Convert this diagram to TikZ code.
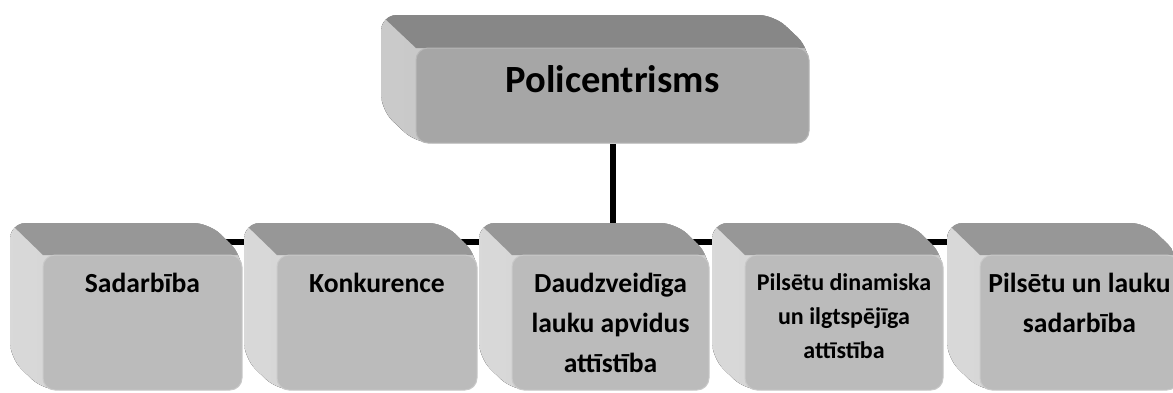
\documentclass[tikz,border=0pt]{standalone}
\usepackage{fontspec}
\setmainfont{Carlito}
\usetikzlibrary{backgrounds}
\definecolor{topF}{HTML}{A6A6A6}
\definecolor{topT}{HTML}{878787}
\definecolor{topS}{HTML}{BDBDBD}
\definecolor{botF}{HTML}{BBBBBB}
\definecolor{botT}{HTML}{979797}
\definecolor{botS}{HTML}{CFCFCF}
\tikzset{
  conn/.style={line width=6pt, black},
  face/.style={rectangle, fill=#1, draw=#1!80!white, line width=1pt, rounded corners=12pt, inner sep=0pt},
  lbl/.style={align=center, inner sep=0pt, anchor=north, font=\fontsize{27.6}{40}\selectfont\bfseries},
  lblsmall/.style={align=center, inner sep=0pt, anchor=north, font=\fontsize{24}{34}\selectfont\bfseries},
}
% #1 name, #2 x1, #3 y1, #4 x2, #5 y2, #6 dx, #7 dy, #8 colour prefix
\newcommand\drawcube[8]{%
  \pgfmathsetmacro\cxa{#2+#6}\pgfmathsetmacro\cya{#3+#7}%
  \pgfmathsetmacro\cxb{#4+#6}\pgfmathsetmacro\cyb{#5+#7}%
  \begin{scope}
    \clip[rounded corners=16pt] (\cxa,\cya) -- (\cxb,\cya) -- (#4,#3) -- (#4,#5) -- (#2,#5) -- (\cxa,\cyb) -- cycle;
    \fill[left color=#8S!80!white, right color=#8S] (\cxa,\cya) rectangle (#4,#5);
    \fill[#8T] (\cxa,\cya) -- (\cxb,\cya) -- (#4,#3) -- (#2,#3) -- cycle;
  \end{scope}
  \node[face=#8F, minimum width={#4-#2}, minimum height={#5-#3}] (#1) at ({(#2+#4)/2},{(#3+#5)/2}) {};
}
\begin{document}
\begin{tikzpicture}[x=1pt, y=-1pt]
\useasboundingbox (0,0) rectangle (1173,392);
\clip (0,0) rectangle (1173,392);

\drawcube{top}{416}{48}{809}{143}{-35}{-33}{top}
\node[anchor=base, inner sep=0pt, font=\fontsize{38.5}{46}\selectfont\bfseries] (toptext) at (612.5,92) {Policentrisms};

\drawcube{b1}{43}{255}{242}{390}{-33}{-32}{bot}
\drawcube{b2}{277}{255}{477}{390}{-33}{-32}{bot}
\drawcube{b3}{512}{255}{709}{390}{-33}{-32}{bot}
\drawcube{b4}{745}{255}{943}{390}{-33}{-32}{bot}
\drawcube{b5}{980}{255}{1179}{390}{-33}{-32}{bot}

\node[lbl] (t1) at (142.5,273) {Sadarbība};
\node[lbl] (t2) at (377,273) {Konkurence};
\node[lbl] (t3) at (610.5,273) {Daudzveidīga\\lauku apvidus\\attīstība};
\node[lblsmall] (t4) at (844,273) {Pilsētu dinamiska\\un ilgtspējīga\\attīstība};
\node[lbl] (t5) at (1079.5,273) {Pilsētu un lauku\\sadarbība};

\begin{scope}[on background layer]
  \coordinate (bus) at (611,242);
  \draw[conn] (top) -- (top |- bus);
  \draw[conn] (b1 |- bus) -- (b5 |- bus);
  \foreach \b in {b1,b2,b3,b4,b5} { \draw[conn] (\b |- bus) -- (\b); }
\end{scope}
\end{tikzpicture}
\end{document}
